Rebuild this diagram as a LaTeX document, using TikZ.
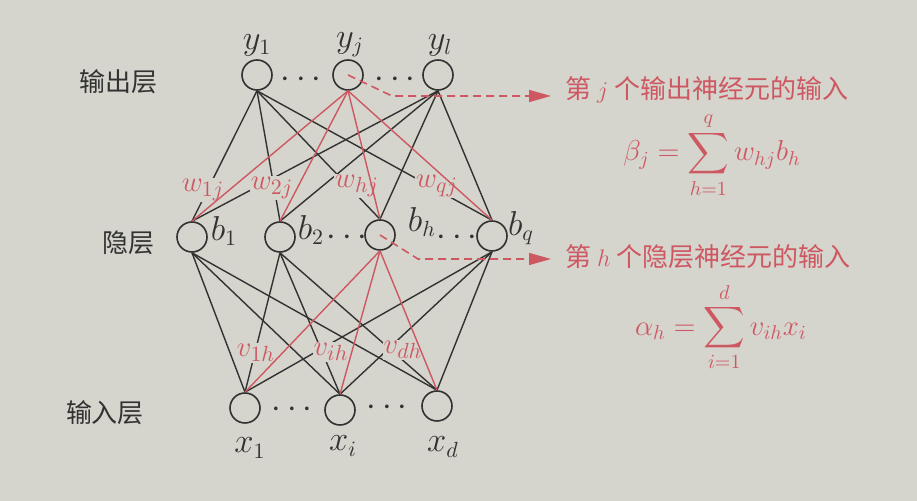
\documentclass[tikz,border=0pt]{standalone}
\usepackage{exscale}
\usepackage{fontspec}
\newfontfamily\cjk{Noto Sans CJK SC}
\usetikzlibrary{arrows.meta}
\definecolor{paper}{RGB}{213,212,205}
\definecolor{hl}{RGB}{206,88,98}
\definecolor{ink}{RGB}{50,50,50}

\begin{document}
\begin{tikzpicture}
		[x=0.5pt,y=-0.5pt,
		neuron/.style={circle,draw=ink,line width=0.8pt,minimum size=15pt,inner sep=0pt},
		edge/.style={ink,line width=0.7pt},
		redge/.style={hl,line width=0.7pt},
		weight/.style={fill=paper,text=hl,inner sep=0.5pt,font=\fontsize{15}{18}\selectfont},
		lbl/.style={text=ink,inner sep=1pt,font=\fontsize{16}{18}\selectfont},
		layer/.style={text=ink,font=\cjk\fontsize{13}{15}\selectfont},
		note/.style={text=hl,anchor=west,inner sep=0pt,font=\cjk\fontsize{13}{15}\selectfont},
		formula/.style={text=hl,inner sep=0pt,font=\fontsize{14}{17}\selectfont},
		guide/.style={hl,line width=0.8pt,dash pattern=on 4pt off 2.5pt,-{Triangle[length=11pt,width=6pt]},shorten >=7pt}
		]
		\useasboundingbox (0,0) rectangle (917,501);
		\fill[paper] (0,0) rectangle (917,501);

		% layer names
		\node[layer] (lout) at (118,82) {输出层};
		\node[layer] (lhid) at (128,243) {隐层};
		\node[layer] (lin) at (105,413) {输入层};

		% output layer
		\node[neuron] (y1) at (257,75) {};
		\node[neuron] (yj) at (348,75) {};
		\node[neuron] (yl) at (438,75) {};
		\node[lbl] (ty1) at (257,45) {$y_1$};
		\node[lbl] (tyj) at (350,45) {$y_j$};
		\node[lbl] (tyl) at (440,45) {$y_l$};
		\node[lbl] (d1) at (301,80) {$\cdots$};
		\node[lbl] (d2) at (395,80) {$\cdots$};

		% hidden layer
		\node[neuron] (b1) at (192,237) {};
		\node[neuron] (b2) at (280,237) {};
		\node[neuron] (bh) at (380,235) {};
		\node[neuron] (bq) at (492,236) {};
		\node[lbl] (tb1) at (224,231) {$b_1$};
		\node[lbl] (tb2) at (311,230) {$b_2$};
		\node[lbl] (tbh) at (422,222) {$b_h$};
		\node[lbl] (tbq) at (521,228) {$b_q$};
		\node[lbl] (d3) at (347,238) {$\cdots$};
		\node[lbl] (d4) at (457,238) {$\cdots$};

		% input layer
		\node[neuron] (x1) at (245,408) {};
		\node[neuron] (xi) at (340,410) {};
		\node[neuron] (xd) at (437,406) {};
		\node[lbl] (tx1) at (250,448) {$x_1$};
		\node[lbl] (txi) at (343,446) {$x_i$};
		\node[lbl] (txd) at (443,447) {$x_d$};
		\node[lbl] (d5) at (292,410) {$\cdots$};
		\node[lbl] (d6) at (387,408) {$\cdots$};

		% connections (black)
		\foreach \t in {y1,yl}
			\foreach \h in {b1,b2,bh,bq}
				\draw[edge] (\t.south) -- (\h.north);
		\foreach \h in {b1,b2,bq}
			\foreach \i in {x1,xi,xd}
				\draw[edge] (\h.south) -- (\i.north);

		% weights
		\node[weight] (w1) at (203,190) {$w_{1j}$};
		\node[weight] (w2) at (272,188) {$w_{2j}$};
		\node[weight] (wh) at (357,186) {$w_{hj}$};
		\node[weight] (wq) at (437,186) {$w_{qj}$};
		\node[weight] (v1) at (256,353) {$v_{1h}$};
		\node[weight] (vi) at (331,352) {$v_{ih}$};
		\node[weight] (vd) at (403,350) {$v_{dh}$};

		% connections (red)
		\foreach \h in {b1,b2,bh,bq}
			\draw[redge] (yj.south) -- (\h.north);
		\foreach \i in {x1,xi,xd}
			\draw[redge] (bh.south) -- (\i.north);

		% notes
		\node[note] (n1) at (565,90) {第 $j$ 个输出神经元的输入};
		\node[note] (n2) at (565,257) {第 $h$ 个隐层神经元的输入};
		\node[formula] (f1) at (712,155) {$\displaystyle \beta_j=\sum_{h=1}^{q} w_{hj}b_h$};
		\node[formula] (f2) at (721,327) {$\displaystyle \alpha_h=\sum_{i=1}^{d} v_{ih}x_i$};

		\coordinate (k1) at (392,96);
		\coordinate (k2) at (418,259);
		\draw[guide] (yj.center) -- (k1) -- (k1 -| n1.west);
		\draw[guide] (bh.center) -- (k2) -- (k2 -| n2.west);
\end{tikzpicture}
\end{document}
